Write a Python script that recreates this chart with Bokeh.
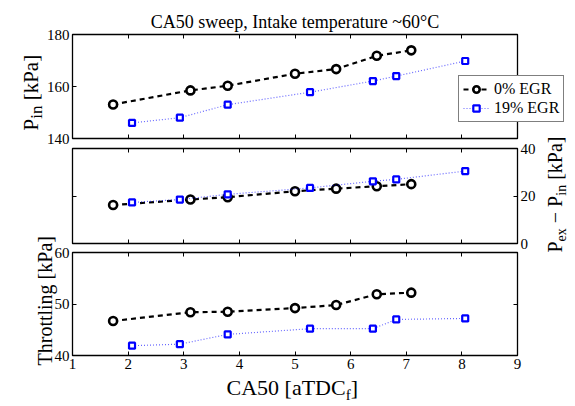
import math
from bokeh.plotting import figure
from bokeh.models import (LinearAxis, FixedTicker, Label, Legend, LegendItem)
from bokeh.layouts import column
from bokeh.embed import file_html
from bokeh.resources import INLINE

# ---------------- data ----------------
ca50_egr0 = [1.73, 3.12, 3.79, 5.00, 5.74, 6.47, 7.09]
ca50_egr19 = [2.07, 2.93, 3.79, 5.27, 6.40, 6.82, 8.06]

pin_egr0 = [153.1, 158.5, 160.3, 164.9, 166.7, 171.8, 173.9]
pin_egr19 = [146.0, 148.0, 153.0, 157.8, 162.1, 164.0, 169.8]

dp_egr0 = [16.2, 18.5, 19.5, 22.0, 23.1, 24.1, 25.0]
dp_egr19 = [17.3, 18.5, 20.7, 23.4, 26.2, 27.0, 30.5]

thr_egr0 = [46.7, 48.4, 48.5, 49.2, 49.8, 51.9, 52.2]
thr_egr19 = [41.9, 42.2, 44.1, 45.2, 45.2, 47.0, 47.2]

x_ticks = [1, 2, 3, 4, 5, 6, 7, 8, 9]
pin_ticks = [140, 160, 180]
dp_ticks = [0, 20, 40]
thr_ticks = [40, 50, 60]
series_labels = ["0% EGR", "19% EGR"]
title_text = "CA50 sweep, Intake temperature ~60°C"

FONT = "Liberation Serif"
W = {"P": .556, "i": .278, "n": .5, "e": .444, "x": .5, " ": .25, "−": .564,
     "[": .333, "k": .5, "a": .444, "]": .333, "T": .611, "h": .5, "r": .333,
     "o": .5, "t": .278, "l": .278, "g": .5, "C": .667, "A": .722, "5": .5,
     "0": .5, "D": .722, "f": .333}

WIN_H = 406


def tw(s, size):
    return sum(W.get(c, .5) for c in s) * size


def rich(p, X, Y, parts, vertical=False):
    """Place text pieces; X, Y are absolute page pixels (top-left origin)."""
    x, y = X, WIN_H - Y
    pos = 0.0
    for text, size, shift in parts:
        lead = len(text) - len(text.lstrip(" "))
        pos += lead * W[" "] * size
        core = text.strip(" ")
        trail = len(text.rstrip(" ")) and (len(text) - len(text.rstrip(" ")))
        if vertical:
            lx, ly, ang = x + shift, y + pos, math.pi / 2
        else:
            lx, ly, ang = x + pos, y - shift, 0
        p.add_layout(Label(x=lx, y=ly, x_units="screen", y_units="screen",
                           text=core, angle=ang, text_font=FONT,
                           text_font_size=f"{size}px", text_color="black",
                           text_align="left", text_baseline="alphabetic"))
        pos += tw(core, size) + trail * W[" "] * size


def style_axis(ax, ticks, labels):
    ax.ticker = FixedTicker(ticks=ticks, minor_ticks=[])
    ax.major_tick_in = 4
    ax.major_tick_out = 0
    ax.minor_tick_in = 0
    ax.minor_tick_out = 0
    ax.axis_line_color = None
    ax.major_tick_line_color = "black"
    ax.major_tick_line_width = 1
    if labels:
        ax.major_label_overrides = {}
        ax.major_label_text_font = FONT
        ax.major_label_text_font_size = "15px"
        ax.major_label_text_color = "black"
        ax.major_label_standoff = 3
    else:
        ax.major_label_overrides = {t: "" for t in ticks}
        ax.major_label_text_font_size = "0px"
        ax.major_label_standoff = 0


def make_fig(height, yr, top, bottom, yticks, right_labels=False):
    p = figure(width=575, height=height, x_range=(1, 9), y_range=yr,
               output_backend="svg", toolbar_location=None,
               min_border_left=72, min_border_right=58,
               min_border_top=top, min_border_bottom=bottom)
    p.xgrid.visible = False
    p.ygrid.visible = False
    p.outline_line_color = "black"
    p.outline_line_width = 1.3
    p.border_fill_color = None
    p.background_fill_color = None
    p.add_layout(LinearAxis(), "above")
    p.add_layout(LinearAxis(), "right")
    style_axis(p.below[0], x_ticks, False)
    style_axis(p.above[0], x_ticks, False)
    style_axis(p.left[0], yticks, not right_labels)
    style_axis(p.right[0], yticks, right_labels)
    return p


def draw(p, y0, y1):
    l0 = p.line(ca50_egr0, y0, line_color="black", line_width=2.2, line_dash="5 4")
    s0 = p.scatter(ca50_egr0, y0, marker="circle", size=8, fill_color="white",
                   line_color="black", line_width=2.6)
    l1 = p.line(ca50_egr19, y1, line_color="#0000ff", line_alpha=0.6,
                line_width=1.2, line_dash="1 2")
    s1 = p.scatter(ca50_egr19, y1, marker="square", size=6, fill_color="white",
                   line_color="#0000ff", line_width=2.2)
    return (l0, s0), (l1, s1)


# ---------------- top panel (canvas 0..147, frame 34..138) ----------------
p1 = make_fig(147, (140, 180), 34, 9, pin_ticks)
draw(p1, pin_egr0, pin_egr19)

# ---------------- middle panel (canvas 139..254, frame 148..243) ----------------
p2 = make_fig(115, (0, 40), 9, 11, dp_ticks, right_labels=True)
draw(p2, dp_egr0, dp_egr19)
p2.margin = (-8, 0, 0, 0)

# ---------------- bottom panel (canvas 236..406, frame 252..355) ----------------
p3 = make_fig(170, (40, 60), 16, 51, thr_ticks)
style_axis(p3.below[0], x_ticks, True)
draw(p3, thr_egr0, thr_egr19)
p3.margin = (-18, 0, 0, 0)

panels = column(p1, p2, p3, spacing=0)

# ---------------- text overlay (whole window, separate root) ----------------
ov = figure(width=575, height=WIN_H, x_range=(0, 575), y_range=(0, WIN_H),
            output_backend="svg", toolbar_location=None,
            x_axis_type=None, y_axis_type=None, min_border=0,
            min_border_left=0, min_border_right=0,
            min_border_top=0, min_border_bottom=0)
ov.xgrid.visible = False
ov.ygrid.visible = False
ov.outline_line_color = None
ov.border_fill_color = None
ov.background_fill_color = None
ov.margin = (-WIN_H, 0, 0, 0)

# legend keys (kept off-range so only the legend shows them)
k0l = ov.line([-50, -40], [-50, -40], line_color="black", line_width=2.2, line_dash="5 4")
k0s = ov.scatter([-50], [-50], marker="circle", size=8, fill_color="white",
                 line_color="black", line_width=2.6)
k1l = ov.line([-50, -40], [-50, -40], line_color="#0000ff", line_alpha=0.6,
              line_width=1.2, line_dash="1 2")
k1s = ov.scatter([-50], [-50], marker="square", size=6, fill_color="white",
                 line_color="#0000ff", line_width=2.2)
legend = Legend(items=[LegendItem(label=series_labels[0], renderers=[k0l, k0s]),
                       LegendItem(label=series_labels[1], renderers=[k1l, k1s])],
                location=(458, WIN_H - 122), margin=0, padding=4, spacing=1,
                border_line_color="black", border_line_width=1,
                background_fill_color="white", background_fill_alpha=1,
                label_text_font=FONT, label_text_font_size="16px",
                label_text_color="black", glyph_width=26, glyph_height=16,
                label_standoff=5, label_height=18)
ov.add_layout(legend, "center")

ov.add_layout(Label(x=294.5, y=WIN_H - 21, x_units="screen", y_units="screen",
                    text=title_text, text_font=FONT, text_font_size="18px",
                    text_color="black", text_align="center",
                    text_baseline="alphabetic"))
rich(ov, 30, 130, [("P", 21, 0), ("in", 17, 6), (" [kPa]", 21, 0)], vertical=True)
rich(ov, 554, 252, [("P", 20, 0), ("ex", 14, 7), (" − ", 20, 0), ("P", 20, 0),
                    ("in", 14, 7), (" [kPa]", 20, 0)], vertical=True)
rich(ov, 44, 365, [("Throttling [kPa]", 20, 0)], vertical=True)
rich(ov, 226, 387, [("CA50 [aTDC", 22, 0), ("f", 15, 7), ("]", 22, 0)])

open("out.html", "w").write(file_html([panels, ov], INLINE))
